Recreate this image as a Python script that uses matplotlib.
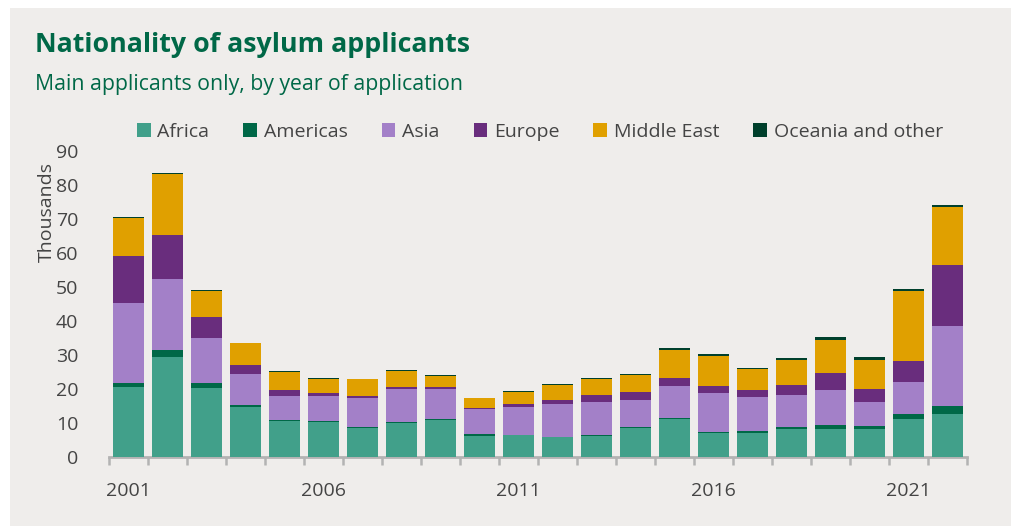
import matplotlib
matplotlib.use("Agg")
import matplotlib.pyplot as plt
from matplotlib.patches import Rectangle
from matplotlib.ticker import FixedLocator
import numpy as np

# ── Data (thousands of main applicants) ──
years = list(range(2001, 2023))
africa = [20.6, 29.4, 20.2, 14.7, 10.6, 10.3, 8.4, 10.0, 11.0, 6.3, 6.4,
          5.9, 6.3, 8.6, 11.3, 7.1, 7.1, 8.2, 8.2, 8.2, 11.3, 12.6]
americas = [1.1, 2.0, 1.6, 0.6, 0.3, 0.2, 0.3, 0.2, 0.1, 0.4, 0.1,
            0.1, 0.1, 0.2, 0.2, 0.3, 0.5, 0.5, 1.1, 0.9, 1.3, 2.4]
asia = [23.5, 20.9, 13.1, 9.0, 7.1, 7.4, 8.7, 9.7, 8.8, 7.3, 8.3,
        9.7, 9.9, 8.0, 9.3, 11.4, 10.0, 9.4, 10.5, 7.0, 9.5, 23.4]
europe = [13.9, 12.9, 6.2, 2.9, 1.6, 1.0, 0.5, 0.6, 0.7, 0.5, 0.7,
          1.0, 1.8, 2.2, 2.3, 2.1, 2.0, 3.0, 4.9, 3.8, 6.0, 18.2]
middle_east = [11.2, 18.0, 7.7, 6.2, 5.5, 4.1, 5.0, 4.8, 3.2, 2.8, 3.6,
               4.5, 4.8, 5.2, 8.4, 8.8, 6.2, 7.4, 9.8, 8.7, 20.7, 16.9]
oceania = [0.2, 0.2, 0.2, 0.2, 0.2, 0.2, 0.1, 0.2, 0.2, 0.2, 0.4,
           0.3, 0.2, 0.3, 0.7, 0.5, 0.3, 0.5, 0.7, 0.7, 0.6, 0.6]
labelled_years = [2001, 2006, 2011, 2016, 2021]

series = [
    ("Africa", africa, "#41a08a"),
    ("Americas", americas, "#006847"),
    ("Asia", asia, "#a380c8"),
    ("Europe", europe, "#692d7d"),
    ("Middle East", middle_east, "#e0a000"),
    ("Oceania and other", oceania, "#00402c"),
]

PANEL = "#efedeb"
GREEN = "#006847"
TEXT = "#444444"
AXIS = "#b3b3b3"

plt.rcParams["font.family"] = ["Open Sans", "DejaVu Sans"]

fig = plt.figure(figsize=(10.12, 5.26), dpi=100)
fig.patch.set_facecolor("white")
fig.patches.append(Rectangle((10 / 1012, 0), 1, 1 - 8 / 526,
                             transform=fig.transFigure, facecolor=PANEL,
                             edgecolor="none", zorder=-10))

ax = fig.add_axes([109 / 1012, 1 - 457 / 526, 858 / 1012, 306 / 526])
ax.set_facecolor("none")

x = np.arange(len(years))
bottom = np.zeros(len(years))
for name, vals, color in series:
    vals = np.array(vals)
    ax.bar(x, vals, bottom=bottom, width=0.77, color=color, label=name,
           edgecolor="none", zorder=3)
    bottom += vals

ax.set_xlim(-0.5, len(years) - 0.5)
ax.set_ylim(0, 90)
ax.set_yticks(range(0, 91, 10))
ax.tick_params(axis="y", length=0, pad=22, labelsize=14, labelcolor=TEXT)

ax.set_xticks([years.index(y) for y in labelled_years])
ax.set_xticklabels([str(y) for y in labelled_years])
ax.xaxis.set_minor_locator(FixedLocator(np.arange(-0.5, len(years), 1)))
ax.tick_params(axis="x", which="major", length=0, pad=18, labelsize=14,
               labelcolor=TEXT)
ax.tick_params(axis="x", which="minor", length=6, width=1.8, color=AXIS)

for side in ["left", "right", "top"]:
    ax.spines[side].set_visible(False)
ax.spines["bottom"].set_color(AXIS)
ax.spines["bottom"].set_linewidth(2)

ax.set_ylabel("Thousands", fontsize=14, color=TEXT)
ax.yaxis.set_label_coords(-0.062, 0.80)

fig.text(35 / 1012, 1 - 52 / 526, "Nationality of asylum applicants",
         fontsize=19.3, fontweight="bold", color=GREEN, va="baseline")
fig.text(35 / 1012, 1 - 90 / 526, "Main applicants only, by year of application",
         fontsize=15.3, color=GREEN, va="baseline")

leg = fig.legend(loc="center", bbox_to_anchor=(540 / 1012, 1 - 132 / 526),
                 ncol=6, frameon=False, fontsize=14, handlelength=0.7,
                 handleheight=0.7, handletextpad=0.35, columnspacing=1.75,
                 labelcolor=TEXT)

fig.savefig("out.png", dpi=100, facecolor=fig.get_facecolor())
